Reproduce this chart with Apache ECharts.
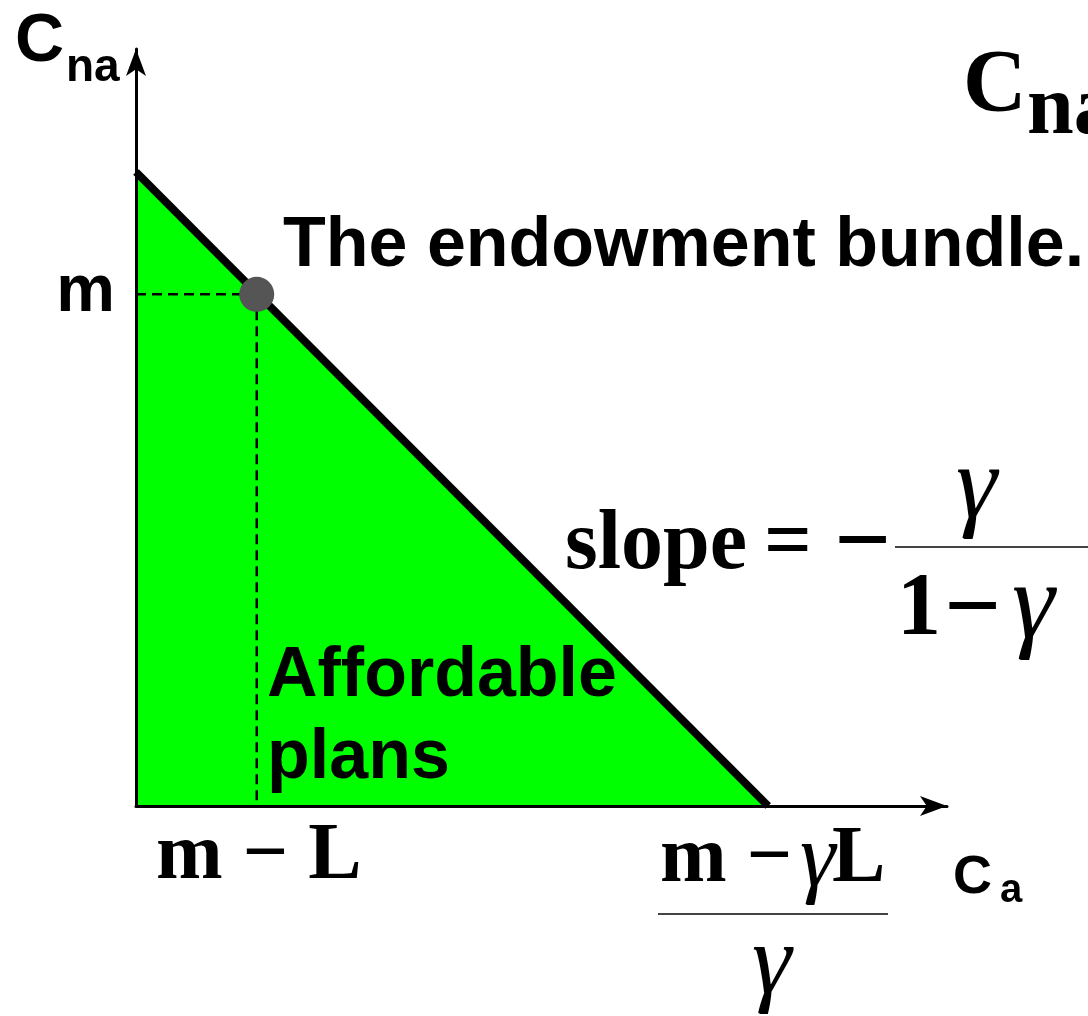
<!DOCTYPE html>
<html>
<head>
<meta charset="utf-8">
<script src="https://cdn.jsdelivr.net/npm/echarts@6/dist/echarts.min.js"></script>
<style>
html, body { margin: 0; padding: 0; background: #fff; }
#chart { width: 1088px; height: 1016px; }
</style>
</head>
<body>
<div id="chart"></div>
<script>
// budget line from its two intercepts, in axis units
const budgetLine = [[0, 10], [10, 0]];
// endowment bundle (m - L, m)
const endowment = [1.91, 8.07];
const axisMax = [12.83, 11.94];

const guideH = [[0, endowment[1]], endowment];
const guideV = [endowment, [endowment[0], 0]];

const SANS = '"Liberation Sans", Arial, sans-serif';
const SERIF = '"Liberation Serif", "Times New Roman", serif';

// text placed by its baseline
function txt(s, x, base, size, font, extra) {
    return {
        type: 'text',
        x: x,
        y: base - 0.31 * size,
        z: 50,
        style: Object.assign({
            text: s,
            font: font || ('bold ' + size + 'px ' + SANS),
            fill: '#000',
            textAlign: 'left',
            textVerticalAlign: 'middle'
        }, extra || {})
    };
}
function bar(x1, x2, y) {
    return {
        type: 'line', z: 50,
        shape: { x1: x1, y1: y, x2: x2, y2: y },
        style: { stroke: '#444', lineWidth: 2 }
    };
}
const serifB = function (s) { return 'bold ' + s + 'px ' + SERIF; };
const gam = function (s) { return 'italic ' + s + 'px ' + SERIF; };

const chart = echarts.init(document.getElementById('chart'));
const option = {
    animation: false,
    backgroundColor: '#fff',
    grid: { left: 136, top: 49, right: 141, bottom: 210 },
    xAxis: {
        type: 'value', min: 0, max: axisMax[0], z: 10,
        axisLine: { show: true, symbol: ['none', 'arrow'], symbolSize: [15, 27], lineStyle: { color: '#000', width: 3 } },
        axisTick: { show: false }, axisLabel: { show: false }, splitLine: { show: false }
    },
    yAxis: {
        type: 'value', min: 0, max: axisMax[1], z: 10,
        axisLine: { show: true, symbol: ['none', 'arrow'], symbolSize: [15, 27], lineStyle: { color: '#000', width: 3 } },
        axisTick: { show: false }, axisLabel: { show: false }, splitLine: { show: false }
    },
    series: [
        {
            type: 'line', data: budgetLine, symbol: 'none', z: 3,
            lineStyle: { color: '#000', width: 8 },
            areaStyle: { color: '#00ff00', opacity: 1 }
        },
        {
            type: 'line', data: guideH, symbol: 'none', z: 4,
            lineStyle: { color: '#000', width: 2.5, type: [10, 6] }
        },
        {
            type: 'line', data: guideV, symbol: 'none', z: 4,
            lineStyle: { color: '#000', width: 2.5, type: [10, 6] }
        },
        {
            type: 'scatter', data: [endowment], symbolSize: 35, z: 5,
            itemStyle: { color: '#555555', opacity: 1 }
        }
    ],
    graphic: [
        txt('C', 15, 63, 68),
        txt('na', 66, 83, 46),
        txt('C', 963, 115, 88, serifB(88)),
        txt('na', 1027, 137, 84, serifB(84)),
        txt('The endowment bundle.', 283, 268, 70),
        txt('m', 115, 313, 66, null, { textAlign: 'right' }),
        txt('slope', 565, 572, 84, serifB(84)),
        txt('=', 764, 572, 84, serifB(84)),
        txt('\u2212', 834, 578, 100, serifB(100)),
        bar(895, 1088, 547),
        txt('\u03b3', 956, 522, 104, gam(104)),
        txt('1', 897, 638, 88, serifB(88)),
        txt('\u2212', 944, 644, 100, serifB(100)),
        txt('\u03b3', 1012, 642, 108, gam(108)),
        txt('Affordable', 267, 698, 70),
        txt('plans', 267, 780, 70),
        txt('m \u2212 L', 156, 882, 80, serifB(80)),
        txt('m \u2212', 660, 885, 80, serifB(80)),
        txt('\u03b3', 800, 890, 90, gam(90)),
        txt('L', 832, 885, 80, serifB(80)),
        bar(658, 888, 914),
        txt('\u03b3', 752, 998, 100, gam(100)),
        txt('C', 953, 895, 54),
        txt('a', 1000, 903, 40)
    ]
};
chart.setOption(option);
</script>
</body>
</html>
